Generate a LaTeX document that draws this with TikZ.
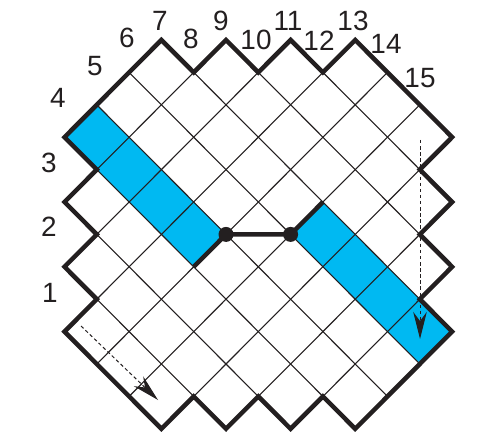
\documentclass[tikz,border=0pt]{standalone}
\usepackage{fontspec}
\setmainfont{Liberation Sans}
\usetikzlibrary{arrows.meta}
\definecolor{inkk}{HTML}{231F20}
\definecolor{bandblue}{HTML}{00B9F2}
\tikzset{
  thinline/.style={draw=inkk,line width=1.1bp},
  thickline/.style={draw=inkk,line width=4.5bp,miter limit=10},
  band/.style={fill=bandblue,draw=none},
  dashedarrow/.style={draw=inkk,line width=1bp,dash pattern=on 3.5bp off 2.6bp,
     -{Stealth[length=27bp,width=13.5bp,inset=9bp]}},
  numlabel/.style={text=inkk,font=\fontsize{28}{28}\selectfont,inner sep=0pt},
  joint/.style={circle,fill=inkk,draw=none,minimum size=15bp,inner sep=0pt}
}
\begin{document}
\begin{tikzpicture}[x=1bp,y=-1bp]
\useasboundingbox (0,0) rectangle (483,434);
\begin{scope}[shift={(64.5,40)},x=32.3bp,y=-32.4bp]
  % lattice points used by the highlighted band and joints
  \coordinate (A) at (5,6);
  \coordinate (B) at (7,6);
  % blue bands
  \fill[band] (0,3)--(1,2)--(5,6)--(4,7)--cycle;
  \fill[band] (8,5)--(12,9)--(11,10)--(7,6)--cycle;
  % grid lines running down to the right
  \foreach \a/\b/\c/\d in {1/8/4/11, 1/6/6/11, 1/4/8/11, 1/2/10/11, 2/1/11/10, 4/1/12/9, 6/1/11/6, 8/1/11/4}
    \draw[thinline] (\a,\b)--(\c,\d);
  % grid lines running up to the right
  \foreach \a/\b/\c/\d in {1/4/4/1, 1/6/6/1, 1/8/8/1, 1/10/10/1, 2/11/11/2, 4/11/11/4, 6/11/11/6, 8/11/11/8}
    \draw[thinline] (\a,\b)--(\c,\d);
  % outer boundary
  \draw[thickline] (0,3)--(3,0)--(4,1)--(5,0)--(6,1)--(7,0)--(8,1)--(9,0)--(12,3)--(11,4)--(12,5)--(11,6)--(12,7)--(11,8)--(12,9)--(9,12)--(8,11)--(7,12)--(6,11)--(5,12)--(4,11)--(3,12)--(0,9)--(1,8)--(0,7)--(1,6)--(0,5)--(1,4)--cycle;
  % joints and link
  \coordinate (A2) at (4,7);
  \coordinate (B2) at (8,5);
  \node[joint] (J1) at (A) {};
  \node[joint] (J2) at (B) {};
  \draw[thickline] (A2)--(J1.center)--(J2.center)--(B2);
\end{scope}
% dashed arrows
\coordinate (s1) at (81,326);
\coordinate (e1) at (158,400);
\coordinate (s2) at (420,140);
\coordinate (e2) at (420,339);
\draw[dashedarrow] (s1)--(e1);
\draw[dashedarrow] (s2)--(e2);
% labels
\foreach \n/\x/\y in {1/50/293,2/49/227,3/49/163,4/58/98,5/95/66,6/127/38,7/160/21,8/191/39,9/221/21,10/256/40,11/288/21,12/319/41,13/353/21,14/386/44,15/420/78}
  \node[numlabel] (n\n) at (\x,\y) {\n};
\end{tikzpicture}
\end{document}
